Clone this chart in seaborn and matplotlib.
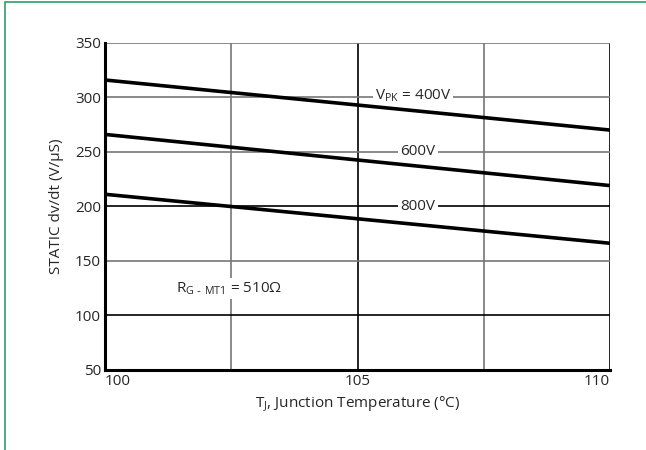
import matplotlib.pyplot as plt
import matplotlib.patches as patches
import seaborn as sns
import pandas as pd

sns.set_style("white")
plt.rcParams['font.family'] = ['Open Sans', 'DejaVu Sans']

temps = [100, 110]
v400 = [316, 270]
v600 = [266, 219]
v800 = [211, 166]
series = ['400V', '600V', '800V']

df = pd.DataFrame({
    'temp': temps * 3,
    'dvdt': v400 + v600 + v800,
    'vpk': [s for s in series for _ in temps],
})

fig = plt.figure(figsize=(6.46, 4.5), dpi=100)
ax = fig.add_axes([105 / 646, 1 - 369.5 / 450, 505 / 646, 326.5 / 450])

# grid lines, mixed grey/black like the original
for x, c in [(102.5, '#777777'), (105, 'black'), (107.5, '#777777'), (110, 'black')]:
    ax.axvline(x, color=c, lw=1.2, zorder=1)
for y, c in [(100, 'black'), (150, '#777777'), (200, 'black'), (250, '#777777'),
             (300, '#777777'), (350, '#777777')]:
    ax.axhline(y, color=c, lw=1.2, zorder=1)

sns.lineplot(data=df, x='temp', y='dvdt', units='vpk', estimator=None,
             color='black', linewidth=2.6, ax=ax, zorder=5, legend=False)

box = dict(facecolor='white', edgecolor='none', pad=1.5)
ax.text(106.1, 301.5, r'V$_{\mathregular{PK}}$ = 400V', ha='center', va='center',
        fontsize=11, bbox=box, zorder=4)
ax.text(106.2, 250, '600V', ha='center', va='center', fontsize=11, bbox=box, zorder=4)
ax.text(106.2, 200, '800V', ha='center', va='center', fontsize=11, bbox=box, zorder=4)
ax.text(102.45, 124, r'R$_{\mathregular{G\ \text{-}\ MT1}}$ = 510Ω', ha='center', va='center',
        fontsize=11, bbox=box, zorder=4)

ax.set_xlim(100, 110)
ax.set_ylim(50, 350)
ax.set_xticks([100, 105, 110])
ax.set_yticks([50, 100, 150, 200, 250, 300, 350])
ax.tick_params(axis='both', length=0, labelsize=11, pad=3)
for lab, ha in zip(ax.get_xticklabels(), ['left', 'center', 'right']):
    lab.set_ha(ha)
ax.set_xlabel(r'T$_{\mathregular{J}}$, Junction Temperature (°C)', fontsize=11)
ax.set_ylabel('STATIC dv/dt (V/μS)', fontsize=11, labelpad=8)

for s in ['top', 'right']:
    ax.spines[s].set_visible(False)
ax.spines['left'].set_linewidth(2.2)
ax.spines['bottom'].set_linewidth(2.2)
ax.spines['left'].set_color('black')
ax.spines['bottom'].set_color('black')

# green frame around the figure (only top and left visible)
fig.patches.append(patches.Rectangle((5 / 646, -0.2), 1.2, 1.2 - 2 / 450,
                                     transform=fig.transFigure, fill=False,
                                     edgecolor='#2e9e6a', lw=1.2))

fig.savefig('out.png', dpi=100)
